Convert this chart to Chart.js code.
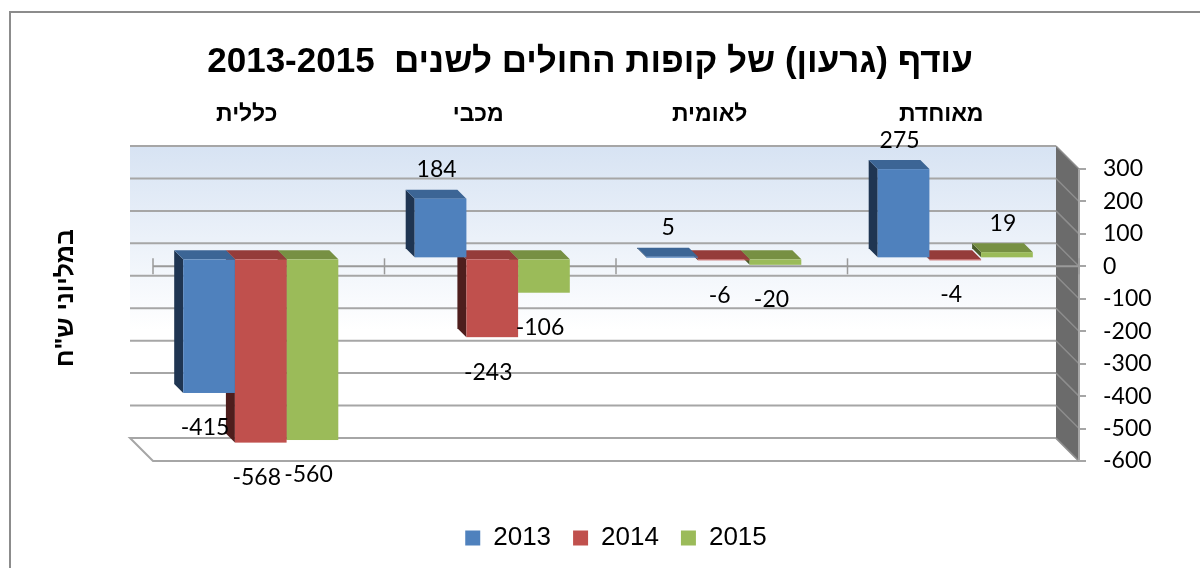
<!DOCTYPE html>
<html><head><meta charset="utf-8">
<script src="https://cdn.jsdelivr.net/npm/chart.js@4.4.1/dist/chart.umd.min.js"></script>
<style>html,body{margin:0;padding:0;background:#fff;}#wrap{width:1200px;height:568px;}</style>
</head><body><div id="wrap"><canvas id="c" width="1200" height="568"></canvas></div>
<script>
const categories = ['כללית', 'מכבי', 'לאומית', 'מאוחדת'];
const seriesNames = ['2013', '2014', '2015'];
const values2013 = [-415, 184, 5, 275];
const values2014 = [-568, -243, -6, -4];
const values2015 = [-560, -106, -20, 19];
const yMin = -600, yMax = 300, yStep = 100;
const titleText = 'עודף (גרעון) של קופות החולים לשנים  2013-2015';
const yTitleText = 'במליוני ש"ח';

const palette = [
  {front: '#4F81BD', top: '#3C6595', side: '#1F3552'},
  {front: '#C0504D', top: '#953C3A', side: '#4E1E1D'},
  {front: '#9BBB59', top: '#779043', side: '#4A5C2A'}
];

const excel3d = {
  id: 'excel3d',
  beforeDatasetsDraw(chart) {
    const {ctx, chartArea: ca, scales} = chart;
    const x = scales.x, y = scales.y;
    const D = 23, OFF = 8, BD = 9;
    const xl = ca.left - D, xr = ca.right - D;
    const yt = y.getPixelForValue(yMax) - D, yb = y.getPixelForValue(yMin) - D;
    ctx.save();
    const g = ctx.createLinearGradient(0, yt, 0, yb);
    g.addColorStop(0, '#d7e3f3');
    g.addColorStop(0.63, '#ffffff');
    g.addColorStop(1, '#ffffff');
    ctx.fillStyle = g;
    ctx.fillRect(xl, yt, xr - xl, yb - yt);
    ctx.beginPath();
    ctx.moveTo(xl, yb); ctx.lineTo(ca.left, yb + D); ctx.lineTo(ca.right, yb + D); ctx.lineTo(xr, yb); ctx.closePath();
    ctx.fillStyle = '#ffffff'; ctx.fill();
    ctx.strokeStyle = '#a6a6a6'; ctx.lineWidth = 2; ctx.stroke();
    ctx.beginPath();
    ctx.moveTo(xr, yt); ctx.lineTo(ca.right, yt + D); ctx.lineTo(ca.right, yb + D); ctx.lineTo(xr, yb); ctx.closePath();
    ctx.fillStyle = '#6b6b6b'; ctx.fill();
    y.ticks.forEach(t => {
      const yy = y.getPixelForValue(t.value) - D;
      ctx.strokeStyle = '#a6a6a6'; ctx.lineWidth = 2;
      ctx.beginPath(); ctx.moveTo(xl, yy); ctx.lineTo(xr, yy); ctx.stroke();
      ctx.strokeStyle = '#8e8e8e'; ctx.lineWidth = 1.5;
      ctx.beginPath(); ctx.moveTo(xr, yy); ctx.lineTo(ca.right, yy + D); ctx.stroke();
    });
    ctx.strokeStyle = '#a6a6a6'; ctx.lineWidth = 2;
    ctx.beginPath(); ctx.moveTo(ca.right, yt + D); ctx.lineTo(ca.right, yb + D); ctx.stroke();
    const y0 = y.getPixelForValue(0);
    ctx.strokeStyle = '#9a9a9a'; ctx.lineWidth = 2;
    ctx.beginPath(); ctx.moveTo(ca.left, y0); ctx.lineTo(ca.right, y0); ctx.stroke();
    const w = x.getPixelForTick(1) - x.getPixelForTick(0);
    const b0 = x.getPixelForTick(0) - w / 2;
    ctx.lineWidth = 1.5;
    for (let i = 0; i <= categories.length; i++) {
      const bx = b0 + i * w;
      ctx.beginPath(); ctx.moveTo(bx, y0 - 8); ctx.lineTo(bx, y0 + 8); ctx.stroke();
    }
    const n = chart.data.datasets.length;
    const labels = [];
    for (let j = 0; j < categories.length; j++) {
      for (let i = n - 1; i >= 0; i--) {
        const el = chart.getDatasetMeta(i).data[j];
        const p = el.getProps(['x', 'y', 'base', 'width'], true);
        const v = chart.data.datasets[i].data[j];
        const c = palette[i];
        const fx = p.x - OFF;
        const left = fx - p.width / 2, right = fx + p.width / 2;
        const top = Math.min(p.y, p.base) - OFF, bot = Math.max(p.y, p.base) - OFF;
        ctx.beginPath();
        ctx.moveTo(left, top); ctx.lineTo(left - BD, top - BD); ctx.lineTo(left - BD, bot - BD); ctx.lineTo(left, bot); ctx.closePath();
        ctx.fillStyle = c.side; ctx.fill();
        ctx.beginPath();
        ctx.moveTo(left, top); ctx.lineTo(left - BD, top - BD); ctx.lineTo(right - BD, top - BD); ctx.lineTo(right, top); ctx.closePath();
        ctx.fillStyle = c.top; ctx.fill();
        ctx.fillStyle = c.front;
        ctx.fillRect(left, top, p.width, Math.max(bot - top, 1));
        labels.push({x: fx - 4, y: v >= 0 ? p.y - OFF - 29 : p.y - OFF + 35, t: String(v)});
      }
    }
    ctx.fillStyle = '#000';
    ctx.font = '23px Lato';
    ctx.textAlign = 'center';
    ctx.textBaseline = 'middle';
    labels.forEach(l => ctx.fillText(l.t, l.x, l.y));
    ctx.restore();
    return false;
  },
  afterDraw(chart) {
    const ctx = chart.ctx;
    ctx.save();
    ctx.translate(66, 298);
    ctx.rotate(-Math.PI / 2);
    ctx.font = 'bold 25px "Liberation Sans"';
    ctx.fillStyle = '#000';
    ctx.textAlign = 'center';
    ctx.textBaseline = 'middle';
    ctx.fillText(yTitleText, 0, 0);
    ctx.restore();
    ctx.save();
    ctx.strokeStyle = '#8c8c8c'; ctx.lineWidth = 2;
    ctx.beginPath(); ctx.moveTo(10, 568); ctx.lineTo(10, 12); ctx.lineTo(1200, 12); ctx.stroke();
    ctx.restore();
  }
};

const seriesValues = [values2013, values2014, values2015];
new Chart(document.getElementById('c'), {
  type: 'bar',
  data: {
    labels: categories,
    datasets: seriesNames.map((s, i) => ({
      label: s, data: seriesValues[i], backgroundColor: palette[i].front,
      xAxisID: 'x', yAxisID: 'y', categoryPercentage: 0.67, barPercentage: 1
    }))
  },
  options: {
    responsive: false,
    animation: false,
    layout: {padding: {left: 0, right: 20, top: 0, bottom: 7}},
    plugins: {
      title: {display: true, text: titleText, color: '#000',
        font: {family: 'Liberation Sans', size: 35, weight: 'bold'}, padding: {top: 41, bottom: 0}},
      legend: {position: 'bottom', fullSize: false,
        labels: {boxWidth: 15, boxHeight: 15, padding: 22, color: '#000',
          font: {family: 'Liberation Sans', size: 26}}},
      tooltip: {enabled: false}
    },
    scales: {
      x: {axis: 'x', position: 'top', grid: {display: false, drawTicks: false, tickLength: 0}, border: {display: false},
        ticks: {color: '#000', font: {family: 'Liberation Sans', size: 23, weight: 'bold'}, padding: 41, labelOffset: -22, maxRotation: 0},
        afterFit: s => { s.height = 86; }},
      xPad: {axis: 'x', type: 'category', labels: [''], position: 'bottom', grid: {display: false, drawTicks: false}, border: {display: false},
        ticks: {display: false}, afterFit: s => { s.height = 42; }},
      y: {axis: 'y', type: 'linear', position: 'right', min: yMin, max: yMax,
        ticks: {stepSize: yStep, color: '#000', font: {family: 'Lato', size: 23}, padding: 17},
        grid: {display: true, drawOnChartArea: false, drawTicks: true, tickLength: 7, color: '#a6a6a6', lineWidth: 2},
        border: {display: false}, afterFit: s => { s.width = 101; }},
      yL: {axis: 'y', type: 'linear', position: 'left', min: yMin, max: yMax, grid: {display: false, drawTicks: false}, border: {display: false},
        ticks: {display: false}, afterFit: s => { s.width = 153; }}
    }
  },
  plugins: [excel3d]
});
</script></body></html>
